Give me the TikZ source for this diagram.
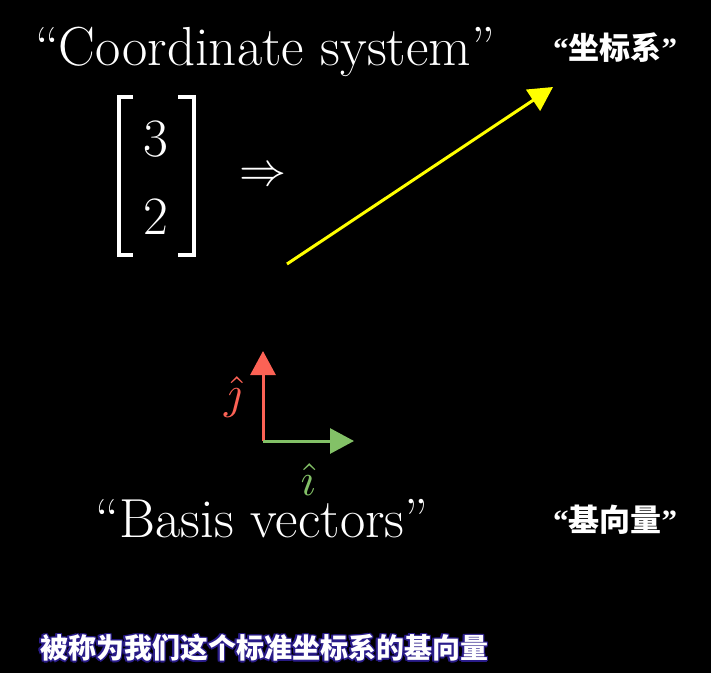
\documentclass[tikz,border=0pt]{standalone}
\usepackage{fontspec}
\newfontfamily\cjk{Noto Sans CJK SC}
\newfontfamily\qfont{Liberation Serif}
\usetikzlibrary{arrows.meta}
\definecolor{mred}{HTML}{FC6255}
\definecolor{mgreen}{HTML}{83C167}
\definecolor{myellow}{HTML}{FFFF00}
\definecolor{glow}{HTML}{2A1C8A}
\newcommand{\zhlq}{{\qfont\bfseries “}}
\newcommand{\zhrq}{{\qfont\bfseries ”}}
\tikzset{
  en/.style={text=white, inner sep=0pt, anchor=base, font=\fontsize{55}{60}\selectfont},
  zh/.style={text=white, inner sep=0pt, font=\cjk\bfseries\fontsize{31}{34}\selectfont},
  sub/.style={inner sep=0pt, font=\cjk\bfseries\fontsize{28}{32}\selectfont},
  vec/.style={line width=3pt, -{Triangle[length=24pt,width=25pt]}},
  brk/.style={white, line width=3.5pt},
  mth/.style={inner sep=0pt, font=\fontsize{10}{12}\selectfont}
}
\begin{document}
\begin{tikzpicture}[x=1pt,y=-1pt]
\fill[black] (0,0) rectangle (711,673);
\useasboundingbox (0,0) rectangle (711,673);
% titles
\node[en] (cs) at (265,65) {``Coordinate system''};
\node[zh] (zcs) at (615,48) {\zhlq 坐标系\zhrq};
% column vector
\draw[brk] (133,97) -- (119,97) -- (119,255) -- (133,255);
\draw[brk] (178,97) -- (194,97) -- (194,255) -- (178,255);
\node[en, font=\fontsize{54}{60}\selectfont] (three) at (156,156) {3};
\node[en, font=\fontsize{54}{60}\selectfont] (two) at (156,234) {2};
\node[mth, text=white, scale=4.7] (imp) at (263,177) {$\Rightarrow$};
% yellow vector
\coordinate (ys) at (287,264);
\coordinate (ye) at (553,87);
\draw[vec, myellow] (ys) -- (ye);
% basis vectors
\coordinate (o) at (263,441);
\coordinate (jt) at (263,351);
\coordinate (it) at (354,441);
\draw[vec, mred] (o) -- (jt);
\draw[vec, mgreen] (o) -- (it);
\node[mth, text=mred, scale=4.6] (jl) at (233,397) {$\hat{\jmath}$};
\node[mth, text=mgreen, scale=4.6] (il) at (308,480) {$\hat{\imath}$};
\node[en] (bv) at (262,537) {``Basis vectors''};
\node[zh] (zbv) at (615,520) {\zhlq 基向量\zhrq};
% subtitle
\foreach \dx/\dy in {1.6/0,-1.6/0,0/1.6,0/-1.6,1.2/1.2,-1.2/1.2,1.2/-1.2,-1.2/-1.2}
  \node[sub, text=glow, xshift=\dx pt, yshift=\dy pt] at (264,648) {被称为我们这个标准坐标系的基向量};
\node[sub, text=white] (subt) at (264,648) {被称为我们这个标准坐标系的基向量};
\end{tikzpicture}
\end{document}
